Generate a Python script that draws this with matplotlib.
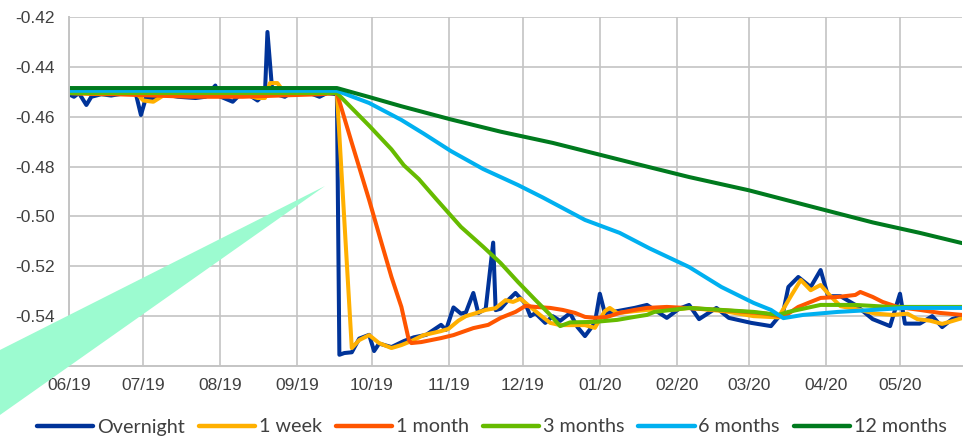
import matplotlib
matplotlib.use("Agg")
import matplotlib.pyplot as plt
from matplotlib.patches import Polygon
import pandas as pd

series_names = ["Overnight", "1 week", "1 month", "3 months", "6 months", "12 months"]
series_colors = ["#003399", "#FFB000", "#FF5500", "#66BB00", "#00B0F0", "#007A1E"]

overnight = [
    ("2019-06-01", -0.451), ("2019-06-03", -0.452), ("2019-06-05", -0.4505), ("2019-06-08", -0.4553),
    ("2019-06-10", -0.452), ("2019-06-14", -0.451), ("2019-06-18", -0.4515), ("2019-06-24", -0.4505),
    ("2019-06-28", -0.451), ("2019-06-30", -0.4593), ("2019-07-02", -0.4525), ("2019-07-05", -0.4525),
    ("2019-07-09", -0.451), ("2019-07-15", -0.452), ("2019-07-22", -0.4525), ("2019-07-26", -0.452),
    ("2019-07-30", -0.4475), ("2019-07-31", -0.4515), ("2019-08-06", -0.454), ("2019-08-09", -0.451),
    ("2019-08-13", -0.4515), ("2019-08-16", -0.4535), ("2019-08-19", -0.4505), ("2019-08-20", -0.426),
    ("2019-08-22", -0.4505), ("2019-08-27", -0.452), ("2019-08-30", -0.450), ("2019-09-03", -0.449),
    ("2019-09-06", -0.4505), ("2019-09-10", -0.452), ("2019-09-13", -0.4505), ("2019-09-17", -0.451),
    ("2019-09-18", -0.5555), ("2019-09-20", -0.5548), ("2019-09-23", -0.5545), ("2019-09-26", -0.549),
    ("2019-09-30", -0.5475), ("2019-10-02", -0.554), ("2019-10-04", -0.551), ("2019-10-09", -0.5524),
    ("2019-10-14", -0.550), ("2019-10-18", -0.5485), ("2019-10-23", -0.5475), ("2019-10-29", -0.5435),
    ("2019-10-31", -0.5455), ("2019-11-03", -0.5365), ("2019-11-06", -0.539), ("2019-11-08", -0.5385),
    ("2019-11-11", -0.5307), ("2019-11-13", -0.5388), ("2019-11-16", -0.537), ("2019-11-19", -0.5105),
    ("2019-11-20", -0.5376), ("2019-11-22", -0.537), ("2019-11-25", -0.5336), ("2019-11-28", -0.5307),
    ("2019-12-02", -0.535), ("2019-12-04", -0.540), ("2019-12-06", -0.5388), ("2019-12-10", -0.5427),
    ("2019-12-13", -0.540), ("2019-12-16", -0.5419), ("2019-12-20", -0.5388), ("2019-12-23", -0.5444),
    ("2019-12-26", -0.548), ("2019-12-30", -0.5427), ("2020-01-01", -0.531), ("2020-01-03", -0.5388),
    ("2020-01-08", -0.538), ("2020-01-15", -0.5367), ("2020-01-20", -0.5355), ("2020-01-28", -0.5407),
    ("2020-02-02", -0.537), ("2020-02-06", -0.5355), ("2020-02-10", -0.5412), ("2020-02-17", -0.5367),
    ("2020-02-22", -0.5407), ("2020-03-02", -0.5427), ("2020-03-10", -0.544), ("2020-03-15", -0.538),
    ("2020-03-17", -0.5283), ("2020-03-21", -0.5243), ("2020-03-26", -0.5283), ("2020-03-30", -0.5215),
    ("2020-04-02", -0.532), ("2020-04-07", -0.532), ("2020-04-13", -0.5355), ("2020-04-20", -0.5412),
    ("2020-04-27", -0.544), ("2020-05-01", -0.531), ("2020-05-03", -0.543), ("2020-05-09", -0.543),
    ("2020-05-14", -0.540), ("2020-05-18", -0.5444), ("2020-05-22", -0.5412), ("2020-05-26", -0.540),
]

one_week = [
    ("2019-06-01", -0.4505), ("2019-06-15", -0.451), ("2019-06-28", -0.4505), ("2019-07-01", -0.4535),
    ("2019-07-05", -0.454), ("2019-07-09", -0.4515), ("2019-07-20", -0.451), ("2019-08-01", -0.4515),
    ("2019-08-10", -0.451), ("2019-08-16", -0.4525), ("2019-08-19", -0.4525), ("2019-08-21", -0.4465),
    ("2019-08-24", -0.4465), ("2019-08-27", -0.4505), ("2019-09-10", -0.4505), ("2019-09-17", -0.4505),
    ("2019-09-23", -0.5528), ("2019-09-26", -0.5496), ("2019-09-30", -0.5476), ("2019-10-04", -0.5508),
    ("2019-10-09", -0.5528), ("2019-10-13", -0.5516), ("2019-10-17", -0.550), ("2019-10-22", -0.5476),
    ("2019-10-29", -0.546), ("2019-11-01", -0.5451), ("2019-11-05", -0.5418), ("2019-11-08", -0.540),
    ("2019-11-12", -0.5388), ("2019-11-16", -0.5375), ("2019-11-20", -0.5368), ("2019-11-24", -0.5336),
    ("2019-11-27", -0.5343), ("2019-11-30", -0.533), ("2019-12-04", -0.5363), ("2019-12-08", -0.5396),
    ("2019-12-12", -0.5427), ("2019-12-16", -0.5436), ("2019-12-21", -0.5436), ("2019-12-26", -0.5436),
    ("2019-12-30", -0.5447), ("2020-01-03", -0.538), ("2020-01-05", -0.5367), ("2020-01-08", -0.5388),
    ("2020-01-15", -0.538), ("2020-01-20", -0.5375), ("2020-02-01", -0.5373), ("2020-02-06", -0.5367),
    ("2020-02-20", -0.538), ("2020-03-03", -0.540), ("2020-03-13", -0.5405), ("2020-03-18", -0.532),
    ("2020-03-22", -0.5255), ("2020-03-26", -0.5296), ("2020-03-30", -0.5275), ("2020-04-03", -0.532),
    ("2020-04-07", -0.536), ("2020-04-15", -0.5375), ("2020-04-21", -0.539), ("2020-04-28", -0.5395),
    ("2020-05-04", -0.539), ("2020-05-08", -0.5412), ("2020-05-13", -0.5418), ("2020-05-18", -0.5431),
    ("2020-05-22", -0.542), ("2020-05-26", -0.5408),
]

one_month = [
    ("2019-06-01", -0.4505), ("2019-06-20", -0.451), ("2019-07-05", -0.4515), ("2019-07-20", -0.452),
    ("2019-08-10", -0.452), ("2019-08-25", -0.4515), ("2019-09-10", -0.451), ("2019-09-17", -0.4505),
    ("2019-09-23", -0.4705), ("2019-09-30", -0.4934), ("2019-10-05", -0.5107), ("2019-10-09", -0.5243),
    ("2019-10-13", -0.5363), ("2019-10-16", -0.5496), ("2019-10-17", -0.5508), ("2019-10-21", -0.5504),
    ("2019-10-29", -0.5488), ("2019-11-03", -0.5476), ("2019-11-11", -0.5448), ("2019-11-17", -0.5435),
    ("2019-11-22", -0.5407), ("2019-11-28", -0.5383), ("2019-12-02", -0.5359), ("2019-12-06", -0.5363),
    ("2019-12-12", -0.5367), ("2019-12-17", -0.5375), ("2019-12-22", -0.5387), ("2019-12-26", -0.5403),
    ("2019-12-30", -0.5407), ("2020-01-04", -0.5403), ("2020-01-09", -0.5387), ("2020-01-15", -0.5375),
    ("2020-01-20", -0.5367), ("2020-01-28", -0.5363), ("2020-02-10", -0.537), ("2020-02-25", -0.538),
    ("2020-03-08", -0.539), ("2020-03-15", -0.5403), ("2020-03-21", -0.5363), ("2020-03-30", -0.5327),
    ("2020-04-06", -0.5323), ("2020-04-13", -0.5315), ("2020-04-15", -0.5303), ("2020-04-20", -0.5323),
    ("2020-04-24", -0.5343), ("2020-04-30", -0.5363), ("2020-05-09", -0.5375), ("2020-05-17", -0.5387),
    ("2020-05-26", -0.5395),
]

three_months = [
    ("2019-06-01", -0.4505), ("2019-09-17", -0.4505), ("2019-09-30", -0.4636), ("2019-10-09", -0.4731),
    ("2019-10-14", -0.4795), ("2019-10-20", -0.4850), ("2019-10-27", -0.4930), ("2019-11-06", -0.5042),
    ("2019-11-15", -0.5122), ("2019-11-22", -0.5187), ("2019-11-29", -0.5263), ("2019-12-06", -0.5335),
    ("2019-12-12", -0.5395), ("2019-12-16", -0.544), ("2019-12-20", -0.5425), ("2019-12-30", -0.5423),
    ("2020-01-08", -0.5415), ("2020-01-15", -0.5403), ("2020-01-20", -0.5395), ("2020-01-23", -0.5383),
    ("2020-02-06", -0.5367), ("2020-02-19", -0.5375), ("2020-03-03", -0.5383), ("2020-03-13", -0.5395),
    ("2020-03-17", -0.5383), ("2020-03-30", -0.5355), ("2020-04-13", -0.5355), ("2020-04-27", -0.5363),
    ("2020-05-09", -0.5363), ("2020-05-26", -0.5363),
]

six_months = [
    ("2019-06-01", -0.4496), ("2019-09-17", -0.4496), ("2019-09-30", -0.4545), ("2019-10-13", -0.4613),
    ("2019-10-22", -0.4668), ("2019-11-02", -0.4738), ("2019-11-15", -0.4810), ("2019-11-29", -0.4874),
    ("2019-12-09", -0.4924), ("2019-12-26", -0.5014), ("2020-01-09", -0.5066), ("2020-01-21", -0.5128),
    ("2020-02-06", -0.5203), ("2020-02-19", -0.5283), ("2020-03-03", -0.5347), ("2020-03-10", -0.5375),
    ("2020-03-15", -0.5408), ("2020-03-23", -0.5395), ("2020-04-06", -0.5383), ("2020-04-20", -0.5375),
    ("2020-05-03", -0.5367), ("2020-05-17", -0.5367), ("2020-05-26", -0.5367),
]

twelve_months = [
    ("2019-06-01", -0.4485), ("2019-09-17", -0.4485), ("2019-09-30", -0.4521), ("2019-10-13", -0.4558),
    ("2019-11-02", -0.4611), ("2019-11-22", -0.4660), ("2019-12-13", -0.4705), ("2020-01-02", -0.4755),
    ("2020-01-20", -0.4800), ("2020-02-06", -0.4842), ("2020-03-01", -0.4895), ("2020-03-30", -0.4970),
    ("2020-04-20", -0.5024), ("2020-05-09", -0.5066), ("2020-05-26", -0.5107),
]

y_ticks = [-0.54, -0.52, -0.50, -0.48, -0.46, -0.44, -0.42]
month_ticks = ["2019-06-01", "2019-07-01", "2019-08-01", "2019-09-01", "2019-10-01", "2019-11-01",
               "2019-12-01", "2020-01-01", "2020-02-01", "2020-03-01", "2020-04-01", "2020-05-01"]
month_labels = ["06/19", "07/19", "08/19", "09/19", "10/19", "11/19",
                "12/19", "01/20", "02/20", "03/20", "04/20", "05/20"]

all_series = [overnight, one_week, one_month, three_months, six_months, twelve_months]

W, H = 967, 438
fig = plt.figure(figsize=(W / 100, H / 100), dpi=100)
ax = fig.add_axes([69 / W, 1 - 366 / H, (962 - 69) / W, (366 - 17) / H])

grid_c = "#C4C4C4"
lines = []
for name, color, data in zip(series_names, series_colors, all_series):
    d = pd.to_datetime([p[0] for p in data])
    v = [p[1] for p in data]
    ln, = ax.plot(d, v, color=color, lw=2.9, label=name, solid_joinstyle="round", solid_capstyle="round")
    lines.append(ln)

ax.set_ylim(-0.56, -0.42)
ax.set_xlim(pd.Timestamp("2019-06-01"), pd.Timestamp("2020-05-26"))
ax.set_yticks(y_ticks)
ax.set_yticklabels([f"{t:.2f}" for t in y_ticks])
ax.set_xticks(pd.to_datetime(month_ticks))
ax.set_xticklabels(month_labels)
ax.grid(True, color=grid_c, lw=1.2)
ax.set_axisbelow(True)
for s in ["top", "right"]:
    ax.spines[s].set_visible(False)
for s in ["left", "bottom"]:
    ax.spines[s].set_color(grid_c)
    ax.spines[s].set_linewidth(1.4)
ax.tick_params(length=0, labelcolor="#404040")
ax.tick_params(axis="y", pad=10)
ax.tick_params(axis="x", pad=9)
for lab in ax.get_xticklabels() + ax.get_yticklabels():
    lab.set_fontfamily("Liberation Sans")
    lab.set_fontsize(12.5)

leg = fig.legend(handles=lines, loc="center", bbox_to_anchor=(492 / W, 1 - 427 / H), ncol=6,
                 frameon=False, handlelength=2.85, handletextpad=0.2, columnspacing=0.7,
                 prop={"family": "Lato", "size": 14.2})
for t in leg.get_texts():
    t.set_color("#404040")
for lh in leg.get_lines():
    lh.set_linewidth(3.2)

wedge = Polygon([(325 / W, 1 - 186 / H), (-10 / W, 1 - 355 / H), (-10 / W, 1 - 422 / H)],
                closed=True, transform=fig.transFigure, facecolor="#9CFBD0", edgecolor="none", zorder=10)
fig.add_artist(wedge)

fig.savefig("out.png", dpi=100)
